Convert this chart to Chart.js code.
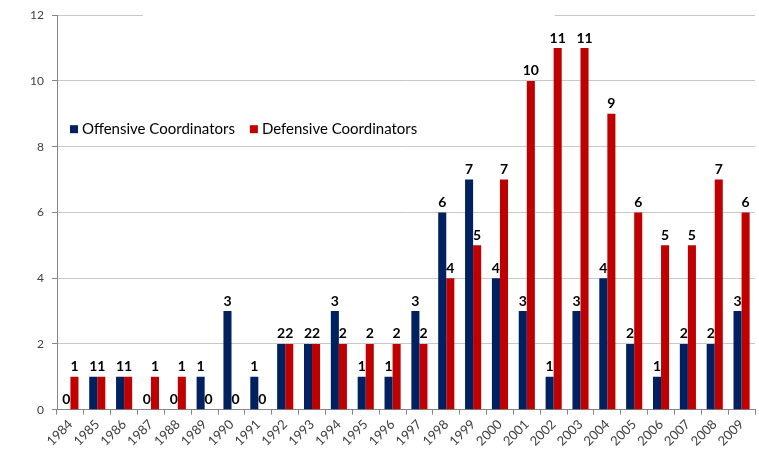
<!DOCTYPE html>
<html>
<head>
<meta charset="utf-8">
<script src="https://cdn.jsdelivr.net/npm/chart.js@4/dist/chart.umd.min.js"></script>
<style>
  html, body { margin: 0; padding: 0; background: #fff; }
  #wrap { width: 759px; height: 465px; }
</style>
</head>
<body>
<div id="wrap"><canvas id="coordChart" width="759" height="465"></canvas></div>
<script>
const years = ["1984", "1985", "1986", "1987", "1988", "1989", "1990", "1991", "1992", "1993",
    "1994", "1995", "1996", "1997", "1998", "1999", "2000", "2001", "2002", "2003",
    "2004", "2005", "2006", "2007", "2008", "2009"];
const offensive = [0, 1, 1, 0, 0, 1, 3, 1, 2, 2, 3, 1, 1, 3, 6, 7, 4, 3, 1, 3, 4, 2, 1, 2, 2, 3];
const defensive = [1, 1, 1, 1, 1, 0, 0, 0, 2, 2, 2, 2, 2, 2, 4, 5, 7, 10, 11, 11, 9, 6, 5, 5, 7, 6];
const seriesNames = ["Offensive Coordinators", "Defensive Coordinators"];
const seriesColors = ["#002060", "#C00000"];

const FONT = "Lato, 'Open Sans', sans-serif";

// value labels above each bar
const valueLabels = {
    id: "valueLabels",
    afterDatasetsDraw(chart) {
        const ctx = chart.ctx;
        ctx.save();
        ctx.font = "bold 14px " + FONT;
        ctx.fillStyle = "#000";
        ctx.textAlign = "center";
        ctx.textBaseline = "bottom";
        chart.data.datasets.forEach((ds, i) => {
            const meta = chart.getDatasetMeta(i);
            meta.data.forEach((bar, j) => {
                ctx.fillText(String(ds.data[j]), bar.x, bar.y - 3);
            });
        });
        ctx.restore();
    }
};

// legend drawn inside the plot, like the original
const insideLegend = {
    id: "insideLegend",
    afterDraw(chart) {
        const ctx = chart.ctx;
        const area = chart.chartArea;
        let x = area.left + 13;
        const y = area.top + 114;
        ctx.save();
        ctx.font = "15px " + FONT;
        ctx.textBaseline = "middle";
        ctx.textAlign = "left";
        chart.data.datasets.forEach(ds => {
            ctx.fillStyle = ds.backgroundColor;
            ctx.fillRect(x, y - 4, 8, 8);
            ctx.fillStyle = "#000";
            ctx.fillText(ds.label, x + 12, y);
            x += 12 + ctx.measureText(ds.label).width + 15;
        });
        ctx.restore();
    }
};

// the top gridline is cut in the middle in the source image
const topGap = {
    id: "topGap",
    beforeDatasetsDraw(chart) {
        const area = chart.chartArea;
        const ctx = chart.ctx;
        const w = area.right - area.left;
        ctx.save();
        ctx.fillStyle = "#fff";
        ctx.fillRect(area.left + w * 0.123, area.top - 2, w * 0.59, 4);
        ctx.restore();
    }
};

new Chart(document.getElementById("coordChart"), {
    type: "bar",
    data: {
        labels: years,
        datasets: [
            { label: seriesNames[0], data: offensive, backgroundColor: seriesColors[0] },
            { label: seriesNames[1], data: defensive, backgroundColor: seriesColors[1] }
        ]
    },
    options: {
        responsive: false,
        animation: false,
        layout: { padding: { top: 9, right: 4, left: 0, bottom: 14 } },
        datasets: {
            bar: { categoryPercentage: 0.6, barPercentage: 1.0 }
        },
        plugins: {
            legend: { display: false },
            tooltip: { enabled: false }
        },
        scales: {
            x: {
                grid: {
                    display: true,
                    drawOnChartArea: false,
                    drawTicks: true,
                    tickLength: 5,
                    color: "#868686",
                    offset: true
                },
                border: { color: "#868686" },
                ticks: {
                    minRotation: 45,
                    maxRotation: 45,
                    color: "#404040",
                    font: { size: 13, family: FONT },
                    padding: 2
                }
            },
            y: {
                min: 0,
                max: 12,
                afterFit(scale) { scale.width = 57; },
                grid: {
                    color: "#c8c8c8",
                    tickLength: 5,
                    tickColor: "#868686"
                },
                border: { color: "#868686" },
                ticks: {
                    stepSize: 2,
                    color: "#404040",
                    font: { size: 12, family: FONT },
                    padding: 8
                }
            }
        }
    },
    plugins: [topGap, valueLabels, insideLegend]
});
</script>
</body>
</html>
